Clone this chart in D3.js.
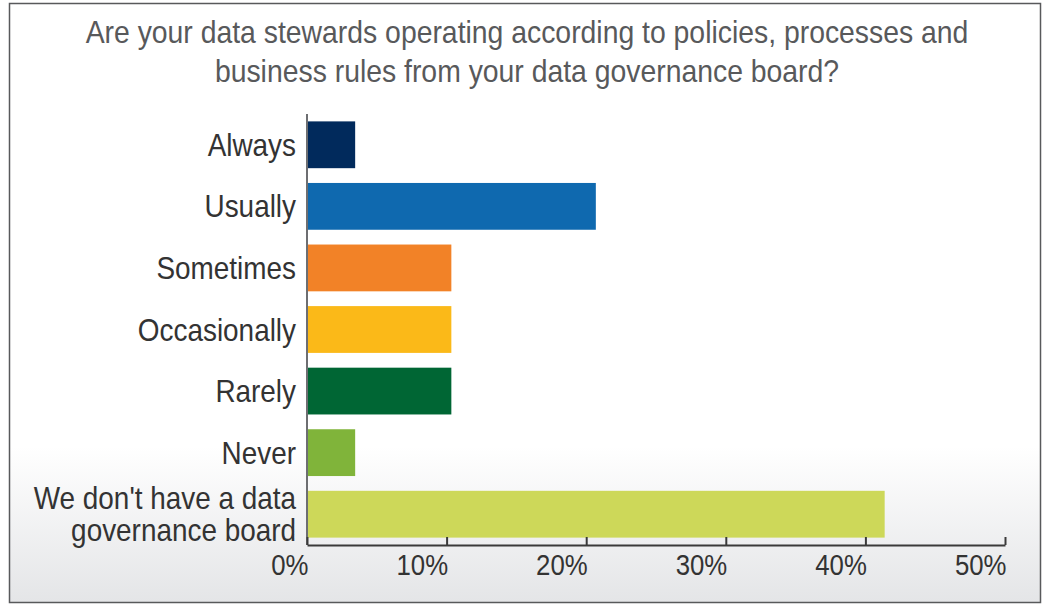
<!DOCTYPE html>
<html>
<head>
<meta charset="utf-8">
<script src="https://cdn.jsdelivr.net/npm/d3@7"></script>
<style>
  html, body { margin: 0; padding: 0; background: #ffffff; }
  svg { display: block; }
  text { font-family: "Liberation Sans", Arial, sans-serif; }
</style>
</head>
<body>
<svg id="chart" width="1044" height="605"></svg>
<script>
// Survey responses (share of respondents, %)
const categories = [
  "Always",
  "Usually",
  "Sometimes",
  "Occasionally",
  "Rarely",
  "Never",
  "We don't have a data|governance board"
];
const values = [3.45, 20.69, 10.34, 10.34, 10.34, 3.45, 41.38];
const colors = ["#012a5c", "#0f69af", "#f28227", "#fbb918", "#006634", "#80b43a", "#cdd859"];
const tickValues = [0, 10, 20, 30, 40, 50];
const titleLines = [
  "Are your data stewards operating according to policies, processes and",
  "business rules from your data governance board?"
];

// horizontal squeeze giving the regular sans a condensed look
const TITLE_CONDENSE = 0.915;
const LABEL_CONDENSE = 0.9;

const svg = d3.select("#chart");

// panel background with a soft grey fade toward the bottom
const defs = svg.append("defs");
const grad = defs.append("linearGradient")
  .attr("id", "bgFade").attr("x1", 0).attr("y1", 0).attr("x2", 0).attr("y2", 1);
grad.append("stop").attr("offset", "0.74").attr("stop-color", "#ffffff");
grad.append("stop").attr("offset", "1").attr("stop-color", "#e4e5e7");

svg.append("rect")
  .attr("x", 9.5).attr("y", 3.5).attr("width", 1031).attr("height", 599)
  .attr("fill", "url(#bgFade)")
  .attr("stroke", "#58595b").attr("stroke-width", 1.5);

const plot = { left: 307, right: 1005, top: 114, bottom: 545 };

const x = d3.scaleLinear().domain([0, 50]).range([plot.left, plot.right]);
const y = d3.scaleBand()
  .domain(categories)
  .range([plot.top, plot.bottom])
  .paddingInner(0.24)
  .paddingOuter(0.12);

// title
const title = svg.append("g").attr("fill", "#58595b");
titleLines.forEach((line, i) => {
  title.append("text")
    .attr("transform", `translate(527,${43 + i * 39}) scale(${TITLE_CONDENSE},1)`)
    .attr("text-anchor", "middle")
    .attr("font-size", 31)
    .text(line);
});

// bars
svg.append("g")
  .selectAll("rect")
  .data(categories)
  .join("rect")
  .attr("x", x(0) + 1)
  .attr("y", d => y(d))
  .attr("width", (d, i) => x(values[i]) - x(0) - 1)
  .attr("height", y.bandwidth())
  .attr("fill", (d, i) => colors[i]);

// category labels (right-aligned against the axis)
const labels = svg.append("g").attr("fill", "#333333");
categories.forEach(c => {
  const parts = c.split("|");
  const cy = y(c) + y.bandwidth() / 2;
  const lineH = 32;
  parts.forEach((p, j) => {
    const baseline = cy + 11 + (j - (parts.length - 1) / 2) * lineH;
    labels.append("text")
      .attr("transform", `translate(296,${baseline}) scale(${LABEL_CONDENSE},1)`)
      .attr("text-anchor", "end")
      .attr("font-size", 31)
      .text(p);
  });
});

// y axis line
svg.append("line")
  .attr("x1", plot.left).attr("x2", plot.left)
  .attr("y1", plot.top).attr("y2", plot.bottom)
  .attr("stroke", "#6d6e71").attr("stroke-width", 2);

// x axis with ticks pointing up into the plot
const xAxis = d3.axisBottom(x)
  .tickValues(tickValues)
  .tickSize(-8)
  .tickSizeOuter(0)
  .tickFormat(d => d + "%");

const gx = svg.append("g")
  .attr("transform", `translate(0,${plot.bottom})`)
  .call(xAxis);

gx.select(".domain").attr("stroke", "#3a3a3a").attr("stroke-width", 2);
gx.selectAll(".tick line").attr("stroke", "#3a3a3a").attr("stroke-width", 2);
gx.selectAll(".tick text")
  .attr("fill", "#333333")
  .attr("font-size", 30)
  .attr("font-family", null)
  .attr("text-anchor", "end")
  .attr("x", 0)
  .attr("y", 0)
  .attr("dy", 0)
  .attr("transform", `translate(1,30) scale(0.86,1)`);
</script>
</body>
</html>
